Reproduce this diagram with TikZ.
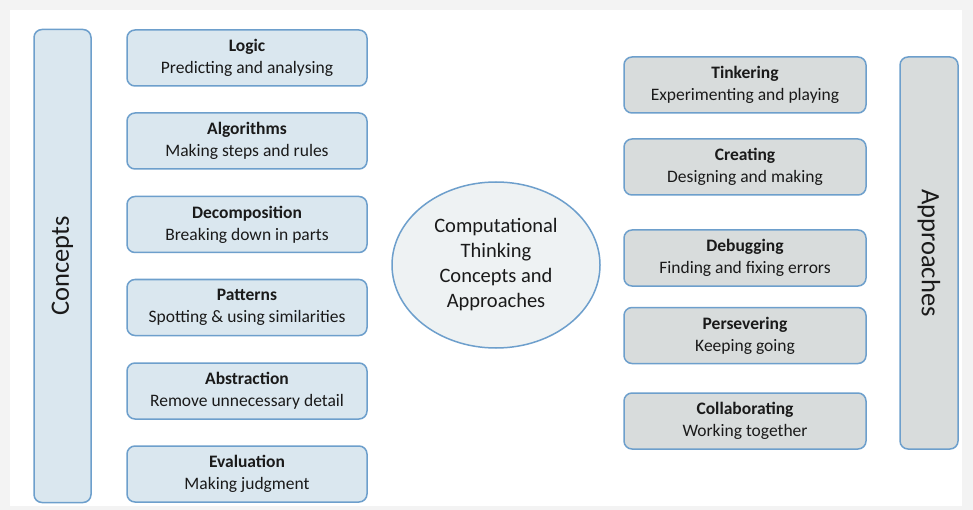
\documentclass[tikz,border=0pt]{standalone}
\usepackage{fontspec}
\setmainfont{Carlito}
\usetikzlibrary{shapes.geometric}
\definecolor{outerbg}{HTML}{F3F3F3}
\definecolor{edgeblue}{HTML}{6D9FCC}
\definecolor{bluefill}{HTML}{DAE7EF}
\definecolor{grayfill}{HTML}{D8DCDC}
\definecolor{ellfill}{HTML}{EEF2F3}
\definecolor{txt}{HTML}{1A1A1A}
\tikzset{
  itembox/.style={draw=edgeblue, line width=1.5pt, rounded corners=8pt, minimum width=240pt, minimum height=56pt, align=center, text=txt, font=\fontsize{17.5}{22}\selectfont, inner sep=0pt},
  conceptbox/.style={itembox, fill=bluefill},
  approachbox/.style={itembox, fill=grayfill, minimum width=242pt},
  sidebar/.style={draw=edgeblue, line width=1.5pt, rounded corners=8pt, text=txt, font=\fontsize{26.5}{30}\selectfont, inner sep=0pt}
}
\newcommand{\boxtext}[2]{\raisebox{-1.5pt}{\begin{tabular}{@{}c@{}}\textbf{#1}\\#2\end{tabular}}}
\begin{document}
\begin{tikzpicture}[x=1pt,y=-1pt]
\fill[outerbg] (0,0) rectangle (973,510);
\fill[white] (10,10) rectangle (962,506);
\useasboundingbox (0,0) rectangle (973,510);

\node[sidebar, fill=bluefill, minimum width=57pt, minimum height=473pt] (concepts) at (62.5,266) {};
\node[rotate=90, text=txt, font=\fontsize{26.5}{30}\selectfont] (conceptslabel) at (concepts.center) {Concepts};

\node[sidebar, fill=grayfill, minimum width=58pt, minimum height=392pt] (approaches) at (929,253) {};
\node[rotate=-90, text=txt, font=\fontsize{26.5}{30}\selectfont] (approacheslabel) at (approaches.center) {Approaches};

\node[conceptbox] (logic) at (247,58) {\textbf{Logic}\\Predicting and analysing};
\node[conceptbox] (algorithms) at (247,141) {\textbf{Algorithms}\\Making steps and rules};
\node[conceptbox] (decomposition) at (247,224.5) {\textbf{Decomposition}\\Breaking down in parts};
\node[conceptbox] (patterns) at (247,307.5) {\textbf{Patterns}\\Spotting \& using similarities};
\node[conceptbox] (abstraction) at (247,391) {\textbf{Abstraction}\\Remove unnecessary detail};
\node[conceptbox] (evaluation) at (247,474) {\textbf{Evaluation}\\Making judgment};

\node[ellipse, draw=edgeblue, line width=1.5pt, fill=ellfill, minimum width=208pt, minimum height=166pt, inner sep=0pt, align=center, text=txt, font=\fontsize{20.5}{25}\selectfont] (center) at (496,265) {Computational\\Thinking\\Concepts and\\Approaches};

\node[approachbox] (tinkering) at (745,85) {\textbf{Tinkering}\\Experimenting and playing};
\node[approachbox] (creating) at (745,167) {\textbf{Creating}\\Designing and making};
\node[approachbox] (debugging) at (745,258) {\textbf{Debugging}\\Finding and fixing errors};
\node[approachbox] (persevering) at (745,335.5) {\textbf{Persevering}\\Keeping going};
\node[approachbox] (collaborating) at (745,421) {\textbf{Collaborating}\\Working together};
\end{tikzpicture}
\end{document}
